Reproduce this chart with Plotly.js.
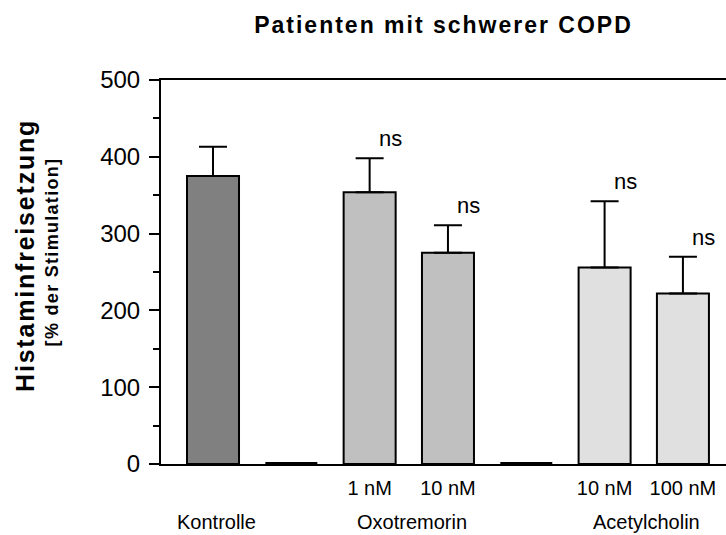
<!DOCTYPE html>
<html>
<head>
<meta charset="utf-8">
<script src="https://cdn.plot.ly/plotly-3.0.1.min.js"></script>
<style>
  html, body { margin: 0; padding: 0; background: #ffffff; }
  #chart { width: 726px; height: 535px; }
  #chart .gtitle { letter-spacing: 2px; }
  #chart g.annotation[data-index="7"] text { letter-spacing: 1.8px; }
  #chart g.annotation[data-index="8"] text { letter-spacing: 1.3px; }
</style>
</head>
<body>
<div id="chart"></div>
<script>
// ---- data ----
var slots = ["Kontrolle", "", "Oxotremorin 1 nM", "Oxotremorin 10 nM", "", "Acetylcholin 10 nM", "Acetylcholin 100 nM"];
var values = [375, 0, 354, 275, 0, 256, 222];
var errorsUp = [38, 0, 44, 36, 0, 86, 48];
var hasBar = [true, false, true, true, false, true, true];
var barColors = ["#808080", "#ffffff", "#c0c0c0", "#c0c0c0", "#ffffff", "#e0e0e0", "#e0e0e0"];
var concLabels = ["", "", "1 nM", "10 nM", "", "10 nM", "100 nM"];
var sigLabels = ["", "", "ns", "ns", "", "ns", "ns"];
var groupNames = ["Kontrolle", "Oxotremorin", "Acetylcholin"];
var groupSlots = [[0], [2, 3], [5, 6]];
var title = "Patienten mit schwerer COPD";
var yTitleMain = "Histaminfreisetzung";
var yTitleSub = "[% der Stimulation]";

// ---- build ----
var FONT = "Liberation Sans, Arial, sans-serif";
var BARW = 0.664;
var idx = slots.map(function (_, i) { return i; });

var barX = [], barY = [], barErr = [], barCol = [];
idx.forEach(function (i) {
  if (hasBar[i]) { barX.push(i); barY.push(values[i]); barErr.push(errorsUp[i]); barCol.push(barColors[i]); }
});

var traces = [{
  type: "bar",
  x: barX,
  y: barY,
  width: BARW,
  marker: { color: barCol, line: { color: "#000000", width: 2 } },
  error_y: { type: "data", symmetric: false, array: barErr, arrayminus: barErr.map(function () { return 0; }),
             color: "#000000", thickness: 2, width: 14 },
  hoverinfo: "skip",
  showlegend: false
}];

// empty slots: zero-height bars (drawn as outline segment on the baseline)
idx.forEach(function (i) {
  if (!hasBar[i]) {
    traces.push({
      type: "scatter", mode: "lines",
      x: [i - BARW / 2, i + BARW / 2], y: [values[i], values[i]],
      line: { color: "#000000", width: 4 },
      hoverinfo: "skip", showlegend: false, cliponaxis: false
    });
  }
});

var tickVals = [], tickText = [];
idx.forEach(function (i) { if (concLabels[i]) { tickVals.push(i); tickText.push(concLabels[i]); } });

var annotations = [];
idx.forEach(function (i) {
  if (sigLabels[i]) {
    annotations.push({
      x: i, y: values[i] + errorsUp[i], xref: "x", yref: "y",
      text: sigLabels[i], showarrow: false, xanchor: "center", yanchor: "bottom",
      xshift: 21, yshift: 5, font: { family: FONT, size: 22, color: "#000000" }
    });
  }
});
groupNames.forEach(function (g, k) {
  var s = groupSlots[k];
  var c = s.reduce(function (a, b) { return a + b; }, 0) / s.length;
  annotations.push({
    x: c, y: 0, xref: "x", yref: "paper", text: g, showarrow: false,
    xanchor: "center", yanchor: "middle", yshift: -58, xshift: 3,
    font: { family: FONT, size: 20, color: "#000000" }
  });
});
annotations.push({
  x: 0, y: 0.542, xref: "paper", yref: "paper", text: "<b>" + yTitleMain + "</b>",
  textangle: -90, showarrow: false, xanchor: "center", yanchor: "middle", xshift: -136,
  font: { family: FONT, size: 25, color: "#000000" }
});
annotations.push({
  x: 0, y: 0.552, xref: "paper", yref: "paper", text: "<b>" + yTitleSub + "</b>",
  textangle: -90, showarrow: false, xanchor: "center", yanchor: "middle", xshift: -109,
  font: { family: FONT, size: 18, color: "#000000" }
});

var layout = {
  width: 726, height: 535,
  margin: { l: 161, r: 0, t: 80, b: 71, pad: 0 },
  paper_bgcolor: "#ffffff", plot_bgcolor: "#ffffff",
  title: { text: "<b>" + title + "</b>", font: { family: FONT, size: 23, color: "#000000" },
           x: 0.5, xref: "paper", y: 0.953, yref: "container", xanchor: "center", yanchor: "middle" },
  xaxis: {
    range: [-0.664, 6.55], showgrid: false, zeroline: false,
    showline: true, linecolor: "#000000", linewidth: 2, mirror: true,
    ticks: "", tickvals: tickVals, ticktext: tickText, ticklabelstandoff: 5,
    tickfont: { family: FONT, size: 20, color: "#000000" }
  },
  yaxis: {
    range: [0, 500], showgrid: false, zeroline: false,
    showline: true, linecolor: "#000000", linewidth: 2,
    ticks: "outside", ticklen: 10, tickwidth: 2, tickcolor: "#000000", dtick: 100, tick0: 0,
    minor: { ticks: "outside", ticklen: 6, tickwidth: 2, tickcolor: "#000000", dtick: 50, tick0: 0 },
    ticklabelstandoff: 4,
    tickfont: { family: FONT, size: 24, color: "#000000" }
  },
  annotations: annotations,
  showlegend: false
};

Plotly.newPlot("chart", traces, layout, { staticPlot: true, displayModeBar: false });
</script>
</body>
</html>
